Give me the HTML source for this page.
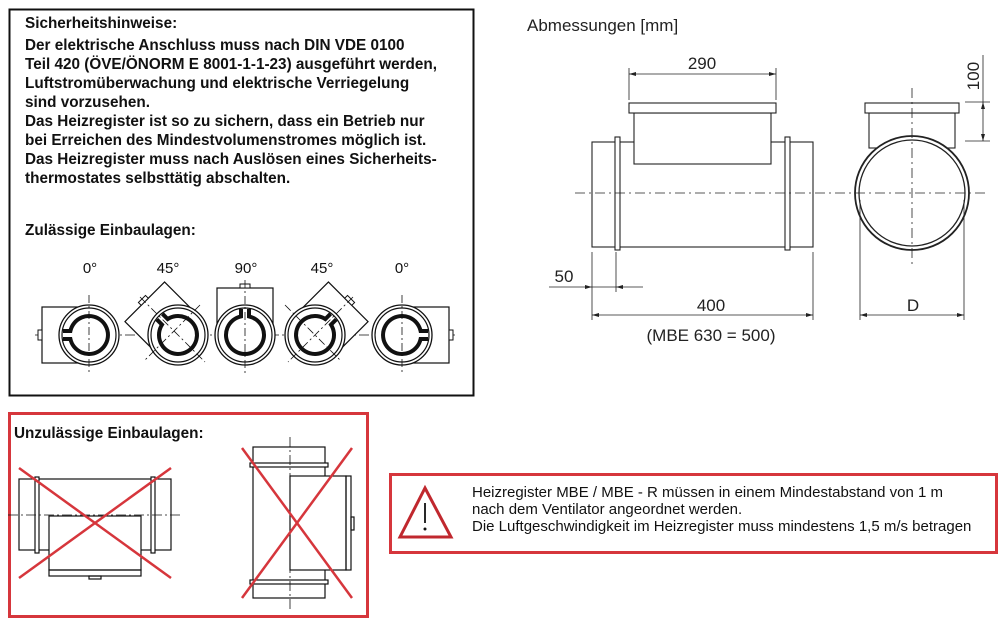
<!DOCTYPE html>
<html><head><meta charset="utf-8"><style>
html,body{margin:0;padding:0;background:#fff;}
svg{display:block;}
.b{font-family:"Liberation Sans",sans-serif;font-weight:bold;font-size:15.3px;fill:#111;}
.n{font-family:"Liberation Sans",sans-serif;font-size:15px;fill:#111;}
.d{font-family:"Liberation Sans",sans-serif;font-size:17px;fill:#222;}
</style></head><body>
<svg width="1000" height="627" viewBox="0 0 1000 627" xmlns="http://www.w3.org/2000/svg">
<defs>
<g id="kh">
  <rect x="-47" y="-28" width="37" height="56" fill="#fff" stroke="#111" stroke-width="1.2"/>
  <rect x="-51" y="-5" width="4" height="10" fill="#fff" stroke="#111" stroke-width="1"/>
  <circle r="30" fill="#fff" stroke="#111" stroke-width="1.3"/>
  <circle r="27" fill="none" stroke="#111" stroke-width="1.2"/>
  <path d="M-26,-4 L-18.6,-4 A19,19 0 1 1 -18.6,4 L-26,4" fill="none" stroke="#111" stroke-width="4"/>
</g>
</defs>
<rect x="9.5" y="9.5" width="464" height="386" fill="none" stroke="#111" stroke-width="2"/>
<text class="b" x="25" y="28" font-size="16">Sicherheitshinweise:</text>
<text class="b" x="25" y="50">Der elektrische Anschluss muss nach DIN VDE 0100</text>
<text class="b" x="25" y="69">Teil 420 (ÖVE/ÖNORM E 8001-1-1-23) ausgeführt werden,</text>
<text class="b" x="25" y="88">Luftstromüberwachung und elektrische Verriegelung</text>
<text class="b" x="25" y="107">sind vorzusehen.</text>
<text class="b" x="25" y="126">Das Heizregister ist so zu sichern, dass ein Betrieb nur</text>
<text class="b" x="25" y="145">bei Erreichen des Mindestvolumenstromes möglich ist.</text>
<text class="b" x="25" y="164">Das Heizregister muss nach Auslösen eines Sicherheits-</text>
<text class="b" x="25" y="183">thermostates selbsttätig abschalten.</text>
<text class="b" x="25" y="235" font-size="16">Zulässige Einbaulagen:</text>
<g class="n" font-size="14" text-anchor="middle">
<text x="90" y="273">0°</text><text x="168" y="273">45°</text><text x="246" y="273">90°</text><text x="322" y="273">45°</text><text x="402" y="273">0°</text>
</g>
<line x1="35" y1="335" x2="455" y2="335" stroke="#111" stroke-width="0.8" stroke-dasharray="10,3,2,3"/>
<use href="#kh" transform="translate(89,335)"/>
<use href="#kh" transform="translate(178,335) rotate(45)"/>
<use href="#kh" transform="translate(245,335) rotate(90)"/>
<use href="#kh" transform="translate(315,335) rotate(135)"/>
<use href="#kh" transform="translate(402,335) rotate(180)"/>
<g stroke="#111" stroke-width="0.8" stroke-dasharray="8,3,2,3">
<line x1="89" y1="295" x2="89" y2="375"/><line x1="245" y1="280" x2="245" y2="375"/><line x1="402" y1="295" x2="402" y2="375"/>
<line x1="140" y1="297" x2="205" y2="362"/><line x1="200" y1="305" x2="145" y2="360"/>
<line x1="353" y1="297" x2="288" y2="362"/><line x1="285" y1="305" x2="340" y2="360"/>
</g>
<rect x="9.5" y="413.5" width="358" height="203" fill="none" stroke="#d6363c" stroke-width="3"/>
<text class="b" x="14" y="438" font-size="15.5">Unzulässige Einbaulagen:</text>
<g fill="none" stroke="#111" stroke-width="1.2">
<rect x="19" y="479" width="152" height="71" fill="#fff"/>
<rect x="35" y="477" width="4" height="76" fill="#fff"/>
<rect x="151" y="477" width="4" height="76" fill="#fff"/>
<rect x="49" y="516" width="92" height="54" fill="#fff"/>
<rect x="49" y="570" width="92" height="6"/>
<rect x="89" y="576" width="12" height="3"/>
<line x1="8" y1="515" x2="181" y2="515" stroke-width="0.8" stroke-dasharray="10,3,2,3"/>
<rect x="253" y="447" width="72" height="151" fill="#fff"/>
<rect x="250" y="463" width="78" height="4" fill="#fff"/>
<rect x="250" y="580" width="78" height="4" fill="#fff"/>
<rect x="290" y="476" width="56" height="94" fill="#fff"/>
<rect x="346" y="476" width="5" height="94"/>
<rect x="351" y="517" width="3" height="13"/>
<line x1="290" y1="437" x2="290" y2="610" stroke-width="0.8" stroke-dasharray="10,3,2,3"/>
</g>
<g stroke="#d6363c" stroke-width="2.5">
<line x1="19" y1="468" x2="171" y2="578"/><line x1="171" y1="468" x2="19" y2="578"/>
<line x1="242" y1="448" x2="352" y2="598"/><line x1="352" y1="448" x2="242" y2="598"/>
</g>
<text class="d" x="527" y="31" font-size="20" fill="#333">Abmessungen [mm]</text>
<g fill="none" stroke="#222" stroke-width="1.1">
<rect x="592" y="142" width="221" height="105" fill="#fff"/>
<rect x="615" y="137" width="5" height="113" fill="#fff"/>
<rect x="785" y="137" width="5" height="113" fill="#fff"/>
<rect x="634" y="113" width="137" height="51" fill="#fff"/>
<rect x="629" y="103" width="147" height="10" fill="#fff"/>
<rect x="869" y="113" width="86" height="35" fill="#fff"/>
<rect x="865" y="103" width="94" height="10" fill="#fff"/>
<circle cx="912" cy="193" r="57" fill="#fff" stroke-width="1.8"/>
<circle cx="912" cy="193" r="53" stroke-width="1.3"/>
</g>
<g stroke="#222" stroke-width="0.8" fill="none">
<line x1="575" y1="193" x2="985" y2="193" stroke-dasharray="10,4,2,4"/>
<line x1="912" y1="88" x2="912" y2="265" stroke-dasharray="10,4,2,4"/>
<line x1="629" y1="68" x2="629" y2="100"/><line x1="776" y1="68" x2="776" y2="100"/>
<line x1="629" y1="74" x2="776" y2="74"/>
<line x1="965" y1="102" x2="990" y2="102"/><line x1="965" y1="141" x2="990" y2="141"/>
<line x1="983" y1="55" x2="983" y2="141"/>
<line x1="592" y1="252" x2="592" y2="320"/><line x1="616" y1="252" x2="616" y2="292"/><line x1="813" y1="252" x2="813" y2="320"/>
<line x1="549" y1="287" x2="643" y2="287"/>
<line x1="592" y1="315" x2="813" y2="315"/>
<line x1="860" y1="200" x2="860" y2="320"/><line x1="964" y1="200" x2="964" y2="320"/>
<line x1="860" y1="315" x2="964" y2="315"/>
</g>
<g fill="#222">
<path d="M629,74 l7,-2 v4z"/><path d="M776,74 l-7,-2 v4z"/>
<path d="M983,102 l-2,7 h4z"/><path d="M983,141 l-2,-7 h4z"/>
<path d="M592,287 l-7,-2 v4z"/><path d="M616,287 l7,-2 v4z"/>
<path d="M592,315 l7,-2 v4z"/><path d="M813,315 l-7,-2 v4z"/>
<path d="M860,315 l7,-2 v4z"/><path d="M964,315 l-7,-2 v4z"/>
</g>
<text class="d" x="702" y="69" text-anchor="middle">290</text>
<text class="d" x="979" y="76" text-anchor="middle" transform="rotate(-90 979 76)">100</text>
<text class="d" x="564" y="282" text-anchor="middle">50</text>
<text class="d" x="711" y="311" text-anchor="middle">400</text>
<text class="d" x="711" y="341" text-anchor="middle" font-size="16">(MBE 630 = 500)</text>
<text class="d" x="913" y="311" text-anchor="middle">D</text>
<rect x="390.5" y="474.5" width="606" height="78" fill="none" stroke="#d6363c" stroke-width="3"/>
<path d="M425,488 L451,537 L400,537 Z" fill="#fff" stroke="#c0282e" stroke-width="3" stroke-linejoin="miter"/>
<line x1="425" y1="503" x2="425" y2="523" stroke="#111" stroke-width="1.8"/>
<circle cx="425" cy="529" r="1.5" fill="#111"/>
<text class="n" x="472" y="497">Heizregister MBE / MBE - R müssen in einem Mindestabstand von 1 m</text>
<text class="n" x="472" y="514">nach dem Ventilator angeordnet werden.</text>
<text class="n" x="472" y="531">Die Luftgeschwindigkeit im Heizregister muss mindestens 1,5 m/s betragen</text>
</svg>
</body></html>
